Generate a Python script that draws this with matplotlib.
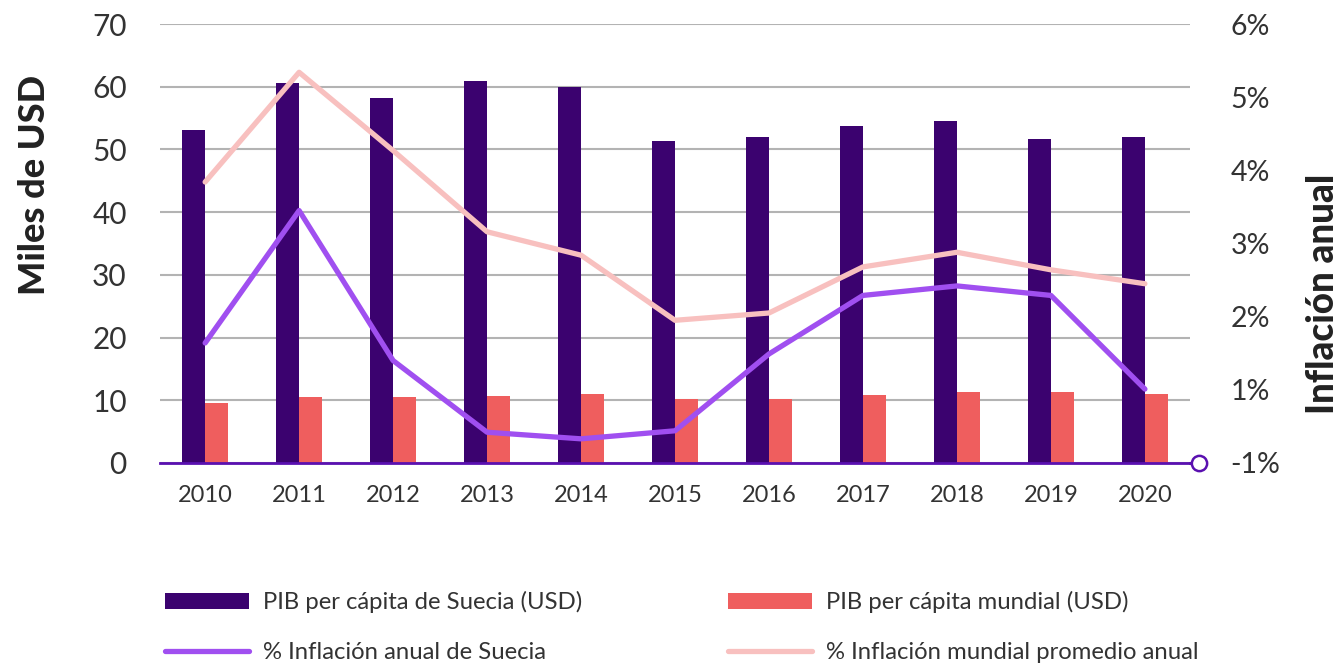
import matplotlib.pyplot as plt
import numpy as np

plt.rcParams['font.family'] = ['Lato', 'DejaVu Sans']

years = ['2010', '2011', '2012', '2013', '2014', '2015', '2016', '2017', '2018', '2019', '2020']

# PIB per cápita, miles de USD
pib_suecia = [53.1, 60.6, 58.2, 60.9, 60.0, 51.4, 52.0, 53.7, 54.5, 51.7, 52.0]
pib_mundial = [9.6, 10.5, 10.5, 10.7, 11.0, 10.2, 10.2, 10.85, 11.3, 11.3, 11.0]

# inflación, en unidades del eje derecho
infl_suecia = [1.64, 3.45, 1.40, 0.42, 0.33, 0.44, 1.49, 2.29, 2.42, 2.29, 1.01]
infl_mundial = [3.84, 5.34, 4.27, 3.16, 2.84, 1.95, 2.05, 2.68, 2.88, 2.64, 2.45]

left_ticks = [0, 10, 20, 30, 40, 50, 60, 70]
right_ticks = [0, 1, 2, 3, 4, 5, 6]
right_labels = ['-1%', '1%', '2%', '3%', '4%', '5%', '6%']

c_pib_se = '#3b026f'
c_pib_mu = '#ef5e5e'
c_inf_se = '#a04ff0'
c_inf_mu = '#f8c0bf'
txt = '#333333'

fig = plt.figure(figsize=(13.38, 6.63), dpi=100)
ax = fig.add_axes([0.1196, 0.3017, 0.7698, 0.6621])

x = np.arange(len(years))
w = 0.245
b1 = ax.bar(x - w / 2, pib_suecia, w, color=c_pib_se, zorder=2)
b2 = ax.bar(x + w / 2, pib_mundial, w, color=c_pib_mu, zorder=2)

ax.set_xlim(-0.48, len(years) - 1 + 0.48)
ax.set_ylim(0, 70)
ax.set_yticks(left_ticks)
ax.set_xticks(x)
ax.set_xticklabels(years)
ax.grid(axis='y', color='#b3b3b3', linewidth=1.5, zorder=0)
ax.set_axisbelow(True)
ax.tick_params(axis='both', length=0, colors=txt)
ax.tick_params(axis='y', labelsize=21.5, pad=24)
ax.tick_params(axis='x', labelsize=17, pad=16)
for s in ['top', 'right', 'left']:
    ax.spines[s].set_visible(False)
ax.spines['bottom'].set_color('#5a10b0')
ax.spines['bottom'].set_linewidth(2)
ax.spines['bottom'].set_zorder(4)

# end cap of the baseline
ax.plot([1.0, 1.0087], [0, 0], color='#5a10b0', lw=2, transform=ax.transAxes, clip_on=False, zorder=4)
ax.plot([1.0087], [0], 'o', ms=11, mfc='white', mec='#5a10b0', mew=1.8,
        transform=ax.transAxes, clip_on=False, zorder=5)

ax2 = ax.twinx()
l1, = ax2.plot(x, infl_suecia, color=c_inf_se, lw=3.8, solid_capstyle='round', zorder=3)
l2, = ax2.plot(x, infl_mundial, color=c_inf_mu, lw=3.8, solid_capstyle='round', zorder=3)
ax2.set_ylim(0, 6)
ax2.set_yticks(right_ticks)
ax2.set_yticklabels(right_labels)
ax2.tick_params(axis='y', length=0, labelsize=20.5, colors=txt, pad=29)
for s in ['top', 'right', 'left', 'bottom']:
    ax2.spines[s].set_visible(False)

fig.text(0.0255, 1 - 185 / 663, 'Miles de USD', rotation=90, fontsize=26, fontweight='black',
         color='#222222', ha='center', va='center')
fig.text(0.9885, 1 - 294 / 663, 'Inflación anual', rotation=90, fontsize=26.5, fontweight='black',
         color='#222222', ha='center', va='center')

fig.legend([b1, l1, b2, l2],
           ['PIB per cápita de Suecia (USD)', '% Inflación anual de Suecia',
            'PIB per cápita mundial (USD)', '% Inflación mundial promedio anual'],
           ncol=2, loc='upper left', bbox_to_anchor=(0.1233, 0.108), bbox_transform=fig.transFigure,
           frameon=False, fontsize=17.2, handlelength=3.5, handleheight=0.65, handletextpad=0.6,
           labelspacing=1.2, columnspacing=6.1, borderaxespad=0, borderpad=0,
           labelcolor=txt)

fig.savefig('out.png', dpi=100)
